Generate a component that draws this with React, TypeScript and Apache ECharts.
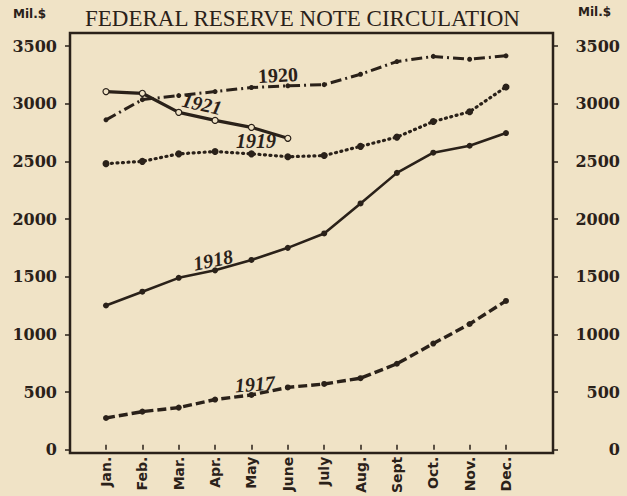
import React, { useEffect, useRef } from "react";
import * as echarts from "echarts";

const months = ["Jan.", "Feb.", "Mar.", "Apr.", "May", "June", "July", "Aug.", "Sept", "Oct.", "Nov.", "Dec."];
const y1917 = [275, 330, 365, 435, 475, 540, 570, 620, 745, 920, 1090, 1290];
const y1918 = [1250, 1370, 1490, 1555, 1645, 1750, 1875, 2135, 2400, 2575, 2635, 2745];
const y1919 = [2480, 2500, 2565, 2585, 2565, 2540, 2550, 2630, 2710, 2845, 2930, 3145];
const y1920 = [2860, 3035, 3070, 3105, 3140, 3155, 3165, 3255, 3365, 3410, 3385, 3415];
const y1921 = [3105, 3090, 2925, 2855, 2795, 2700];
const yearLabels = ["1917", "1918", "1919", "1920", "1921"];
const titleText = "FEDERAL RESERVE NOTE CIRCULATION";
const unitText = "Mil.$";

const INK = "#2a2119";
const BG = "#f0e3c6";

export default function App() {
  const ref = useRef<HTMLDivElement>(null);
  useEffect(() => {
    document.body.style.margin = "0";
    document.body.style.background = BG;
    const chart = echarts.init(ref.current!, undefined, { renderer: "svg" });
    const yLabelStyle = {
      color: INK,
      fontFamily: "DejaVu Serif",
      fontWeight: "bold" as const,
      fontSize: 16,
      formatter: (v: number) => String(v),
    };
    const labelText = (t: string, x: number, y: number, rot: number, italic = false) => ({
      type: "text",
      x,
      y,
      rotation: rot,
      style: {
        text: t,
        fill: INK,
        font: `${italic ? "italic " : ""}bold 20px "Liberation Serif"`,
        align: "center",
        verticalAlign: "middle",
      },
    });
    chart.setOption({
      animation: false,
      backgroundColor: BG,
      title: {
        text: titleText,
        left: 85,
        top: 7,
        padding: 0,
        textStyle: { color: INK, fontFamily: "Liberation Serif", fontWeight: "normal", fontSize: 23 },
      },
      grid: [
        { left: 106, right: 121, top: 46, bottom: 45 },
        { left: 70, right: 74, top: 33, bottom: 43, show: true, borderColor: INK, borderWidth: 2.5, backgroundColor: "transparent" },
      ],
      xAxis: [
        {
          type: "category",
          gridIndex: 0,
          data: months,
          boundaryGap: false,
          axisLine: { show: false },
          axisTick: { show: true, inside: true, length: 5, lineStyle: { color: INK, width: 1.5 } },
          axisLabel: {
            rotate: 90,
            margin: 7,
            color: INK,
            fontFamily: "DejaVu Sans",
            fontWeight: "bold",
            fontSize: 14,
          },
        },
        { type: "value", gridIndex: 1, show: false },
      ],
      yAxis: [
        {
          type: "value",
          gridIndex: 0,
          position: "left",
          offset: 36,
          min: 0,
          max: 3500,
          interval: 500,
          splitLine: { show: false },
          axisLine: { show: false },
          axisTick: { show: true, length: 5, lineStyle: { color: INK, width: 1.5 } },
          axisLabel: { ...yLabelStyle, margin: 13 },
        },
        {
          type: "value",
          gridIndex: 0,
          position: "right",
          offset: 47,
          min: 0,
          max: 3500,
          interval: 500,
          splitLine: { show: false },
          axisLine: { show: false },
          axisTick: { show: true, length: 5, lineStyle: { color: INK, width: 1.5 } },
          axisLabel: { ...yLabelStyle, margin: 67, align: "right" },
        },
        { type: "value", gridIndex: 1, show: false },
      ],
      graphic: [
        {
          type: "text",
          x: 13,
          y: 8,
          style: { text: unitText, fill: INK, font: 'bold 12px "DejaVu Sans"' },
        },
        {
          type: "text",
          x: 578,
          y: 6,
          style: { text: unitText, fill: INK, font: 'bold 12px "DejaVu Sans"' },
        },
        labelText(yearLabels[0], 255, 384, 0.08, true),
        labelText(yearLabels[1], 213, 260, 0.2, true),
        labelText(yearLabels[2], 256, 141, 0, true),
        labelText(yearLabels[3], 278, 75, 0.05, false),
        labelText(yearLabels[4], 202, 104, -0.22, true),
      ],
      series: [
        {
          name: yearLabels[0],
          type: "line",
          data: y1917,
          symbol: "circle",
          symbolSize: 6,
          itemStyle: { color: INK },
          lineStyle: { color: INK, width: 3.4, type: [9, 4] },
        },
        {
          name: yearLabels[1],
          type: "line",
          data: y1918,
          symbol: "circle",
          symbolSize: 6,
          itemStyle: { color: INK },
          lineStyle: { color: INK, width: 2.6, type: "solid" },
        },
        {
          name: yearLabels[2],
          type: "line",
          data: y1919,
          symbol: "circle",
          symbolSize: 7,
          itemStyle: { color: INK },
          lineStyle: { color: INK, width: 3.2, type: [1, 4.5], cap: "round" },
        },
        {
          name: yearLabels[3],
          type: "line",
          data: y1920,
          symbol: "circle",
          symbolSize: 5,
          itemStyle: { color: INK },
          lineStyle: { color: INK, width: 3, type: [11, 4, 2, 4] },
        },
        {
          name: yearLabels[4],
          type: "line",
          data: y1921,
          symbol: "circle",
          symbolSize: 6,
          itemStyle: { color: BG, borderColor: INK, borderWidth: 1.2 },
          lineStyle: { color: INK, width: 3.2, type: "solid" },
          z: 3,
        },
      ],
    });
    return () => chart.dispose();
  }, []);
  return (
    <div
      ref={ref}
      style={{ position: "fixed", left: 0, top: 0, width: 627, height: 496, background: BG }}
    />
  );
}
